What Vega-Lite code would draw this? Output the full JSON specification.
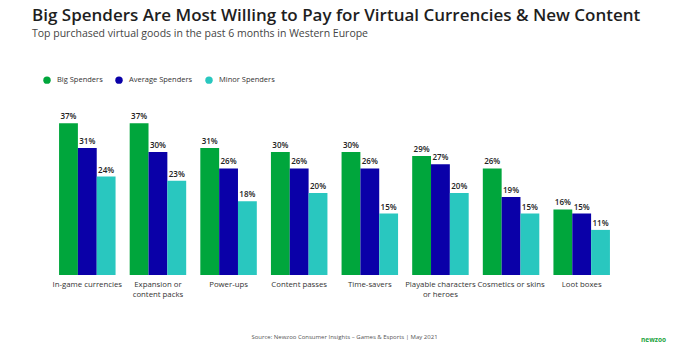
{
  "$schema": "https://vega.github.io/schema/vega-lite/v6.json",
  "width": 565,
  "height": 164,
  "autosize": {"type": "none"},
  "padding": {"left": 52, "top": 111, "right": 74, "bottom": 78},
  "background": "white",
  "config": {
    "font": "Open Sans",
    "view": {"stroke": null}
  },
  "title": {
    "text": "Big Spenders Are Most Willing to Pay for Virtual Currencies & New Content",
    "subtitle": "Top purchased virtual goods in the past 6 months in Western Europe",
    "anchor": "start",
    "frame": "group",
    "dx": -20,
    "fontSize": 17,
    "fontWeight": 600,
    "color": "#1e1e1e",
    "subtitleFontSize": 10.5,
    "subtitleColor": "#444444",
    "subtitlePadding": 4,
    "offset": 36
  },
  "data": {
    "values": [
      {"category": "In-game currencies", "group": "Big Spenders", "value": 0.37},
      {"category": "In-game currencies", "group": "Average Spenders", "value": 0.31},
      {"category": "In-game currencies", "group": "Minor Spenders", "value": 0.24},
      {"category": "Expansion or content packs", "group": "Big Spenders", "value": 0.37},
      {"category": "Expansion or content packs", "group": "Average Spenders", "value": 0.30},
      {"category": "Expansion or content packs", "group": "Minor Spenders", "value": 0.23},
      {"category": "Power-ups", "group": "Big Spenders", "value": 0.31},
      {"category": "Power-ups", "group": "Average Spenders", "value": 0.26},
      {"category": "Power-ups", "group": "Minor Spenders", "value": 0.18},
      {"category": "Content passes", "group": "Big Spenders", "value": 0.30},
      {"category": "Content passes", "group": "Average Spenders", "value": 0.26},
      {"category": "Content passes", "group": "Minor Spenders", "value": 0.20},
      {"category": "Time-savers", "group": "Big Spenders", "value": 0.30},
      {"category": "Time-savers", "group": "Average Spenders", "value": 0.26},
      {"category": "Time-savers", "group": "Minor Spenders", "value": 0.15},
      {"category": "Playable characters or heroes", "group": "Big Spenders", "value": 0.29},
      {"category": "Playable characters or heroes", "group": "Average Spenders", "value": 0.27},
      {"category": "Playable characters or heroes", "group": "Minor Spenders", "value": 0.20},
      {"category": "Cosmetics or skins", "group": "Big Spenders", "value": 0.26},
      {"category": "Cosmetics or skins", "group": "Average Spenders", "value": 0.19},
      {"category": "Cosmetics or skins", "group": "Minor Spenders", "value": 0.15},
      {"category": "Loot boxes", "group": "Big Spenders", "value": 0.16},
      {"category": "Loot boxes", "group": "Average Spenders", "value": 0.15},
      {"category": "Loot boxes", "group": "Minor Spenders", "value": 0.11}
    ]
  },
  "encoding": {
    "x": {
      "field": "category",
      "type": "nominal",
      "sort": null,
      "scale": {"paddingInner": 0.2, "paddingOuter": 0.1},
      "axis": {
        "labelAngle": 0,
        "domain": false,
        "ticks": false,
        "labelPadding": 5,
        "labelFontSize": 7.8,
        "labelColor": "#333333",
        "labelLineHeight": 10,
        "labelExpr": "datum.label == 'Expansion or content packs' ? ['Expansion or', 'content packs'] : datum.label == 'Playable characters or heroes' ? ['Playable characters', 'or heroes'] : datum.label",
        "title": "Source: Newzoo Consumer Insights – Games & Esports | May 2021",
        "titleFontSize": 6,
        "titleFontWeight": "normal",
        "titleColor": "#555555",
        "titleX": 292,
        "titleY": 58
      }
    },
    "xOffset": {
      "field": "group",
      "type": "nominal",
      "sort": ["Big Spenders", "Average Spenders", "Minor Spenders"],
      "scale": {"paddingInner": 0, "paddingOuter": 0}
    },
    "y": {
      "field": "value",
      "type": "quantitative",
      "scale": {"domain": [0, 0.4]},
      "axis": {
        "orient": "right",
        "labels": false,
        "ticks": false,
        "domain": false,
        "grid": false,
        "title": "newzoo",
        "titleAngle": 0,
        "titleX": 36,
        "titleY": 231,
        "titleFontSize": 6.5,
        "titleFontWeight": "bold",
        "titleColor": "#1aa33c"
      }
    }
  },
  "layer": [
    {
      "mark": {"type": "bar"},
      "encoding": {
        "color": {
          "field": "group",
          "type": "nominal",
          "sort": ["Big Spenders", "Average Spenders", "Minor Spenders"],
          "scale": {
            "domain": ["Big Spenders", "Average Spenders", "Minor Spenders"],
            "range": ["#00a63c", "#0a00a8", "#29c7bf"]
          },
          "legend": {
            "title": null,
            "orient": "none",
            "direction": "horizontal",
            "legendX": -9,
            "legendY": -35,
            "symbolType": "circle",
            "symbolSize": 55,
            "symbolStrokeWidth": 0,
            "labelFontSize": 7.5,
            "labelColor": "#333333",
            "labelOffset": 6,
            "columnPadding": 12
          }
        }
      }
    },
    {
      "mark": {"type": "text", "dy": -6, "fontSize": 8, "fontWeight": 600, "color": "#222222"},
      "encoding": {
        "text": {"field": "value", "type": "quantitative", "format": ".0%"}
      }
    }
  ]
}
